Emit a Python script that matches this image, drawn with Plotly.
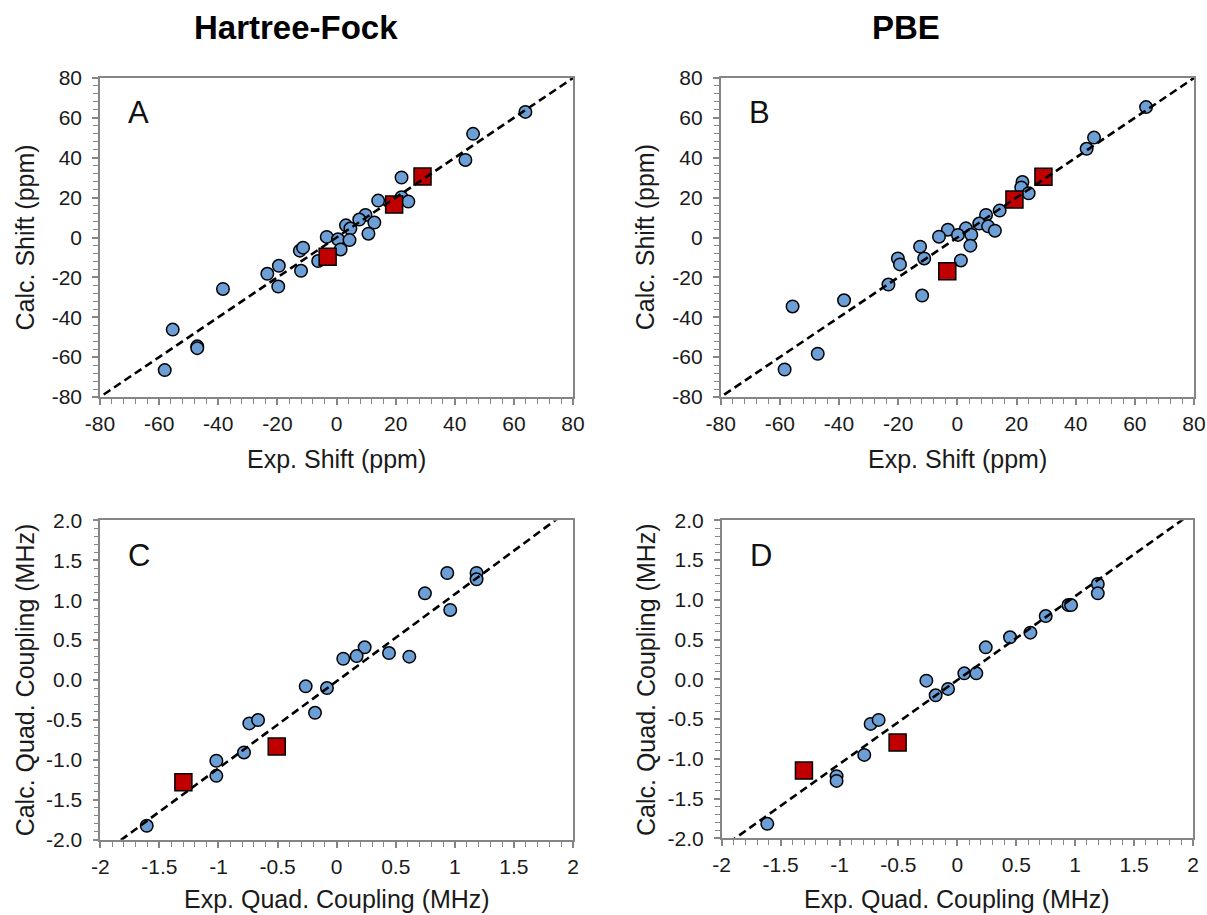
import plotly.graph_objects as go

# ---------------- data ----------------
# Panel A: Hartree-Fock chemical shifts (ppm)
hf_shift_exp = [63.9, 46.2, 43.6, 22.0, 14.1, 22.0, 24.3, 9.8, 7.7, 12.8, 3.2, 4.7, 10.8, -3.3, 0.5,
                4.4, 1.4, -12.4, -11.3, -6.2, -12.0, -19.5, -23.4, -19.7, -38.4, -55.4, -47.1, -47.1, -58.1]
hf_shift_calc = [63.0, 52.0, 38.9, 30.1, 18.5, 20.2, 18.0, 11.3, 9.0, 7.5, 6.1, 4.5, 1.9, 0.3, -0.9,
                 -1.3, -6.0, -6.6, -5.1, -11.8, -16.7, -14.2, -18.2, -24.6, -25.8, -46.2, -54.6, -55.5, -66.5]
hf_shift_exp_sq = [-3.0, 19.5, 29.1]
hf_shift_calc_sq = [-9.6, 16.5, 30.6]

# Panel B: PBE chemical shifts (ppm)
pbe_shift_exp = [63.8, 46.2, 43.7, 22.0, 21.6, 24.1, 14.3, 9.7, 7.4, 10.4, 12.7, 2.9, -3.2, -6.2, 0.2,
                 4.7, 4.4, -12.6, -11.2, -20.1, -19.4, 1.2, -23.3, -11.9, -38.3, -55.7, -47.2, -58.4]
pbe_shift_calc = [65.4, 50.1, 44.5, 27.8, 25.1, 22.2, 13.5, 11.3, 7.0, 5.6, 3.4, 4.6, 3.9, 0.4, 1.3,
                  1.4, -4.1, -4.6, -10.5, -10.5, -13.5, -11.5, -23.6, -29.1, -31.5, -34.6, -58.3, -66.2]
pbe_shift_exp_sq = [-3.4, 19.3, 29.1]
pbe_shift_calc_sq = [-16.9, 19.0, 30.5]

# Panel C: Hartree-Fock quadrupolar couplings (MHz)
hf_quad_exp = [0.936, 1.184, 1.184, 0.747, 0.961, 0.237, 0.169, 0.056, 0.443, 0.615, -0.262, -0.082,
               -0.183, -0.739, -0.665, -0.784, -1.018, -1.018, -1.607]
hf_quad_calc = [1.341, 1.341, 1.262, 1.086, 0.878, 0.410, 0.300, 0.267, 0.338, 0.293, -0.079, -0.100,
                -0.410, -0.543, -0.501, -0.907, -1.011, -1.200, -1.826]
hf_quad_exp_sq = [-0.507, -1.297]
hf_quad_calc_sq = [-0.832, -1.279]

# Panel D: PBE quadrupolar couplings (MHz)
pbe_quad_exp = [1.192, 1.192, 0.943, 0.965, 0.750, 0.620, 0.447, 0.241, 0.059, 0.161, -0.263, -0.184,
                -0.079, -0.736, -0.668, -0.790, -1.025, -1.025, -1.613]
pbe_quad_calc = [1.198, 1.081, 0.934, 0.934, 0.796, 0.587, 0.528, 0.402, 0.075, 0.075, -0.017, -0.201,
                 -0.121, -0.561, -0.511, -0.951, -1.219, -1.278, -1.818]
pbe_quad_exp_sq = [-0.507, -1.302]
pbe_quad_calc_sq = [-0.796, -1.148]

# trend lines (slope, intercept)
fit_a = (1.0, 0.0)
fit_b = (1.0, 0.0)
fit_c = (1.09, -0.015)
fit_d = (1.055, -0.01)

# tick values / labels
shift_ticks = [-80, -60, -40, -20, 0, 20, 40, 60, 80]
shift_tick_text = ["-80", "-60", "-40", "-20", "0", "20", "40", "60", "80"]
quad_x_ticks = [-2, -1.5, -1, -0.5, 0, 0.5, 1, 1.5, 2]
quad_x_tick_text = ["-2", "-1.5", "-1", "-0.5", "0", "0.5", "1", "1.5", "2"]
quad_y_ticks = [-2, -1.5, -1, -0.5, 0, 0.5, 1, 1.5, 2]
quad_y_tick_text = ["-2.0", "-1.5", "-1.0", "-0.5", "0.0", "0.5", "1.0", "1.5", "2.0"]

panel_letters = ["A", "B", "C", "D"]
column_titles = ["Hartree-Fock", "PBE"]
x_titles = ["Exp. Shift (ppm)", "Exp. Shift (ppm)", "Exp. Quad. Coupling (MHz)", "Exp. Quad. Coupling (MHz)"]
y_titles = ["Calc. Shift (ppm)", "Calc. Shift (ppm)", "Calc. Quad. Coupling (MHz)", "Calc. Quad. Coupling (MHz)"]

# ---------------- styling ----------------
W, H = 1207, 915
FONT = "Arial, Liberation Sans, Helvetica, sans-serif"
AXCOL = "#858585"
TICKFONT = dict(family=FONT, size=21, color="#1a1a1a")
CIRC_COL = "#6c9fd6"
SQ_COL = "#c00000"


def px_x(p):
    return p / W


def px_y(p):
    return 1 - p / H


# pixel boxes of the four plot areas (left, right, top, bottom)
boxes = [
    (100.0, 573.0, 78.0, 397.0),
    (720.7, 1194.0, 78.0, 397.0),
    (100.3, 573.0, 520.4, 839.7),
    (721.7, 1193.0, 520.3, 838.3),
]

panels = [
    (hf_shift_exp, hf_shift_calc, hf_shift_exp_sq, hf_shift_calc_sq, fit_a, "shift"),
    (pbe_shift_exp, pbe_shift_calc, pbe_shift_exp_sq, pbe_shift_calc_sq, fit_b, "shift"),
    (hf_quad_exp, hf_quad_calc, hf_quad_exp_sq, hf_quad_calc_sq, fit_c, "quad"),
    (pbe_quad_exp, pbe_quad_calc, pbe_quad_exp_sq, pbe_quad_calc_sq, fit_d, "quad"),
]

fig = go.Figure()
layout = {}
annotations = []

for i, (ex, ca, exs, cas, fit, kind) in enumerate(panels):
    n = i + 1
    xa = "x" if n == 1 else f"x{n}"
    ya = "y" if n == 1 else f"y{n}"
    l, r, t, b = boxes[i]
    xdom = [px_x(l), px_x(r)]
    ydom = [px_y(b), px_y(t)]

    if kind == "shift":
        rng = [-80, 80]
        xt, xtt, yt, ytt = shift_ticks, shift_tick_text, shift_ticks, shift_tick_text
        minor_d = 4
    else:
        rng = [-2, 2]
        xt, xtt, yt, ytt = quad_x_ticks, quad_x_tick_text, quad_y_ticks, quad_y_tick_text
        minor_d = 0.1

    # circles
    fig.add_trace(go.Scatter(
        x=ex, y=ca, mode="markers", xaxis=xa, yaxis=ya, showlegend=False,
        marker=dict(symbol="circle", size=12.5, color=CIRC_COL, line=dict(color="black", width=1.5)),
        cliponaxis=False,
    ))
    # red squares
    fig.add_trace(go.Scatter(
        x=exs, y=cas, mode="markers", xaxis=xa, yaxis=ya, showlegend=False,
        marker=dict(symbol="square", size=17, color=SQ_COL, line=dict(color="black", width=1.5)),
        cliponaxis=False,
    ))
    # dashed trend line
    slope, icpt = fit
    fx = [rng[0] - 1 * (rng[1] - rng[0]), rng[1] + 1 * (rng[1] - rng[0])]
    fy = [slope * v + icpt for v in fx]
    fig.add_trace(go.Scatter(
        x=fx, y=fy, mode="lines", xaxis=xa, yaxis=ya, showlegend=False,
        line=dict(color="black", width=2.6, dash="8px,4.5px"),
    ))

    common = dict(
        range=rng, showgrid=False, zeroline=False, showline=True, linecolor=AXCOL, linewidth=1.6,
        mirror=True, ticks="outside", ticklen=6, tickwidth=1.5, tickcolor=AXCOL,
        tickfont=TICKFONT, automargin=False,
        minor=dict(ticks="outside", ticklen=5, tickwidth=1.2, tickcolor=AXCOL, dtick=minor_d,
                   showgrid=False),
    )
    layout["xaxis" if n == 1 else f"xaxis{n}"] = dict(
        common, domain=xdom, anchor=ya, tickmode="array", tickvals=xt, ticktext=xtt,
        ticklabelstandoff=1)
    layout["yaxis" if n == 1 else f"yaxis{n}"] = dict(
        common, domain=ydom, anchor=xa, tickmode="array", tickvals=yt, ticktext=ytt,
        ticklabelstandoff=6)

    # overlay axes giving the inner half of the crossing major ticks
    layout[f"xaxis{n + 4}"] = dict(
        range=rng, overlaying=xa, anchor=ya, side="bottom", showgrid=False, zeroline=False,
        showline=False, ticks="inside", ticklen=6, tickwidth=1.5, tickcolor=AXCOL, automargin=False,
        showticklabels=False, tickmode="array", tickvals=xt)
    layout[f"yaxis{n + 4}"] = dict(
        range=rng, overlaying=ya, anchor=xa, side="left", showgrid=False, zeroline=False,
        showline=False, ticks="inside", ticklen=6, tickwidth=1.5, tickcolor=AXCOL, automargin=False,
        showticklabels=False, tickmode="array", tickvals=yt)

    # panel letter
    annotations.append(dict(
        text=panel_letters[i], xref="paper", yref="paper",
        x=px_x(l + 26), y=px_y(t + 35), xanchor="left", yanchor="middle",
        showarrow=False, font=dict(family=FONT, size=31, color="#111111")))

    # axis titles
    xt_y = 459 if kind == "shift" else 899
    annotations.append(dict(
        text=x_titles[i], xref="paper", yref="paper",
        x=px_x((l + r) / 2), y=px_y(xt_y), xanchor="center", yanchor="middle",
        showarrow=False, font=dict(family=FONT, size=25, color="#1a1a1a")))
    annotations.append(dict(
        text=y_titles[i], xref="paper", yref="paper",
        x=px_x(l - 75), y=px_y((t + b) / 2), xanchor="center", yanchor="middle",
        textangle=-90, showarrow=False, font=dict(family=FONT, size=25, color="#1a1a1a")))

# column titles
annotations.append(dict(
    text=f"<b>{column_titles[0]}</b>", xref="paper", yref="paper", x=px_x(295.5), y=px_y(28),
    xanchor="center", yanchor="middle", showarrow=False,
    font=dict(family=FONT, size=33, color="black")))
annotations.append(dict(
    text=f"<b>{column_titles[1]}</b>", xref="paper", yref="paper", x=px_x(906), y=px_y(28),
    xanchor="center", yanchor="middle", showarrow=False,
    font=dict(family=FONT, size=33, color="black")))

fig.update_layout(
    width=W, height=H, margin=dict(l=0, r=0, t=0, b=0, autoexpand=False),
    paper_bgcolor="white", plot_bgcolor="white",
    font=dict(family=FONT), showlegend=False,
    annotations=annotations, **layout,
)

fig.write_html(
    "out.html",
    config={"displayModeBar": False},
    post_script="document.body.style.margin='0px';document.body.style.overflow='hidden';",
)
